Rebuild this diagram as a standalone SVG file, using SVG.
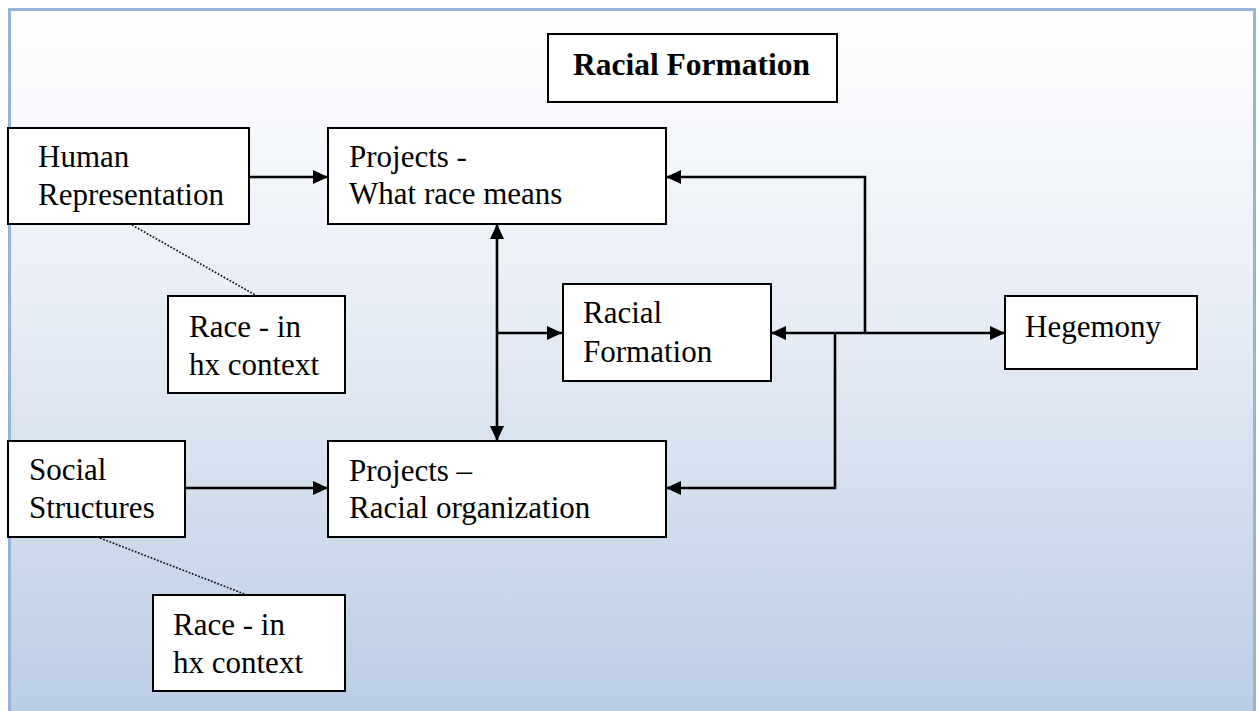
<svg xmlns="http://www.w3.org/2000/svg" width="1259" height="711" viewBox="0 0 1259 711">
  <defs>
    <linearGradient id="bg" x1="0" y1="0" x2="0" y2="1">
      <stop offset="0" stop-color="#ffffff"/>
      <stop offset="0.45" stop-color="#e6ecf5"/>
      <stop offset="1" stop-color="#b9cce4"/>
    </linearGradient>
    <marker id="arrow" markerUnits="userSpaceOnUse" markerWidth="16" markerHeight="15" refX="15" refY="7" orient="auto-start-reverse">
      <path d="M0,0 L15,7 L0,14 z" fill="#000"/>
    </marker>
    <style>
      .box { fill: #ffffff; stroke: #000; stroke-width: 2; }
      .lbl { font-family: "Liberation Serif", "Times New Roman", serif; font-size: 31px; fill: #000; }
      .title { font-weight: bold; font-size: 31.5px; }
      .link { fill: none; stroke: #000; stroke-width: 2.6; }
      .note { fill: none; stroke: #111; stroke-width: 1.7; stroke-dasharray: 1.7 1.7; }
    </style>
  </defs>

  <!-- page background with framed gradient panel -->
  <rect x="0" y="0" width="1259" height="711" fill="#ffffff"/>
  <rect x="9.5" y="9.5" width="1245" height="712" fill="url(#bg)" stroke="#95b3d7" stroke-width="3"/>

  <!-- connectors -->
  <g id="connectors">
    <path class="link" d="M249,177 H328" marker-end="url(#arrow)"/>
    <path class="link" d="M185,488 H328" marker-end="url(#arrow)"/>
    <path class="link" d="M497,224 V441" marker-start="url(#arrow)" marker-end="url(#arrow)"/>
    <path class="link" d="M497,333 H562" marker-end="url(#arrow)"/>
    <path class="link" d="M865,333 V177 H666" marker-end="url(#arrow)"/>
    <path class="link" d="M835,333 H771" marker-end="url(#arrow)"/>
    <path class="link" d="M835,333 H1005" marker-end="url(#arrow)"/>
    <path class="link" d="M835,333 V488 H666" marker-end="url(#arrow)"/>
    <path class="note" d="M132,225 L257,296"/>
    <path class="note" d="M100,538 L247,595"/>
  </g>

  <g id="title">
    <rect class="box" x="548" y="34" width="289" height="68"/>
    <text class="lbl title" x="573" y="75">Racial Formation</text>
  </g>

  <g id="human-representation">
    <rect class="box" x="8" y="128" width="241" height="96"/>
    <text class="lbl" x="38" y="167">Human</text>
    <text class="lbl" x="38" y="205">Representation</text>
  </g>

  <g id="projects-meaning">
    <rect class="box" x="328" y="128" width="338" height="96"/>
    <text class="lbl" x="349" y="167">Projects -</text>
    <text class="lbl" x="349" y="204">What race means</text>
  </g>

  <g id="race-context-1">
    <rect class="box" x="168" y="296" width="177" height="97"/>
    <text class="lbl" x="189" y="337">Race - in</text>
    <text class="lbl" x="189" y="375">hx context</text>
  </g>

  <g id="racial-formation">
    <rect class="box" x="563" y="284" width="208" height="97"/>
    <text class="lbl" x="583" y="323">Racial</text>
    <text class="lbl" x="583" y="362">Formation</text>
  </g>

  <g id="hegemony">
    <rect class="box" x="1005" y="296" width="192" height="73"/>
    <text class="lbl" x="1025" y="337">Hegemony</text>
  </g>

  <g id="social-structures">
    <rect class="box" x="8" y="441" width="177" height="96"/>
    <text class="lbl" x="29" y="480">Social</text>
    <text class="lbl" x="29" y="518">Structures</text>
  </g>

  <g id="projects-organization">
    <rect class="box" x="328" y="441" width="338" height="96"/>
    <text class="lbl" x="349" y="481">Projects –</text>
    <text class="lbl" x="349" y="518">Racial organization</text>
  </g>

  <g id="race-context-2">
    <rect class="box" x="153" y="595" width="192" height="96"/>
    <text class="lbl" x="173" y="635">Race - in</text>
    <text class="lbl" x="173" y="673">hx context</text>
  </g>
</svg>
